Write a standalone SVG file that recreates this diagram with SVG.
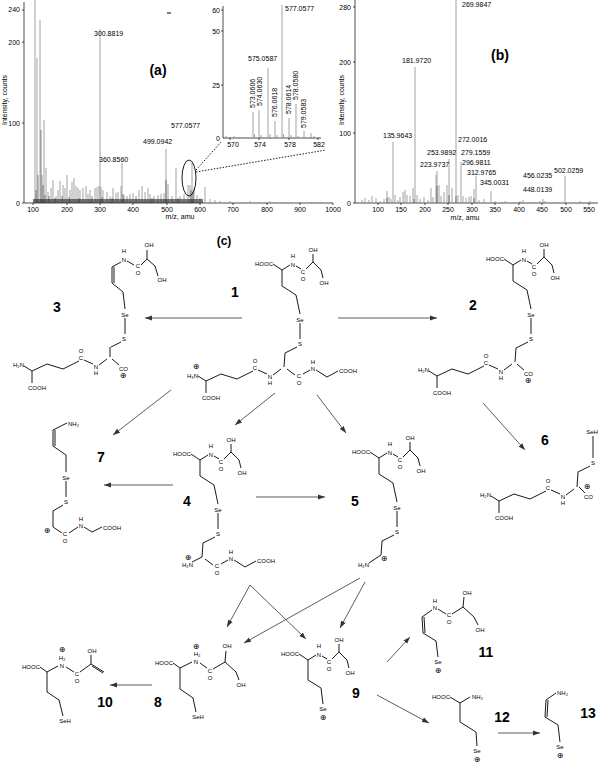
<svg xmlns="http://www.w3.org/2000/svg" width="600" height="764" viewBox="0 0 600 764">
<style>
text{font-family:"Liberation Sans",Arial,sans-serif;fill:#000}
.ax{stroke:#000;stroke-width:0.7;fill:none}
.pk{stroke:#8a8a8a;stroke-width:0.8;fill:none}
.pkd{stroke:#333;stroke-width:0.6;fill:none}
.t{font-size:7px}
.tk{font-size:7px;text-anchor:middle}
.b{stroke:#000;stroke-width:0.9;fill:none}
.a{font-size:6px;text-anchor:middle}
.ae{font-size:6px;text-anchor:end}
.as{font-size:6px;text-anchor:start}
.c{font-size:8px;text-anchor:middle;font-family:"DejaVu Sans",sans-serif}
.n{font-size:14px;font-weight:bold;text-anchor:middle}
.ar{stroke:#333;stroke-width:0.8;fill:none;marker-end:url(#ah)}
</style>
<defs>
<marker id="ah" markerWidth="8" markerHeight="6" refX="7" refY="3" orient="auto" markerUnits="userSpaceOnUse"><path d="M0,0.5 L7,3 L0,5.5 z" fill="#333"/></marker>
<g id="top">
<text class="ae" x="-9" y="-4">HOOC</text>
<path class="b" d="M-9,-6 L0,0 L8,-5 M14,-4 L19,-1 M24,-1 L31,-8 L39,0 L41,8 M31,-8 L31,-16"/>
<text class="a" x="11" y="-12">H</text><text class="a" x="11" y="-3">N</text>
<text class="a" x="21" y="4">C</text><text class="a" x="21" y="11">O</text>
<text class="a" x="31" y="-18">OH</text><text class="a" x="42" y="15">OH</text>
</g>
<g id="core">
<use href="#top"/>
<path class="b" d="M0,0 L0,16 L14,25 L18,44 M18,53 L18,69 M15,77 L3,83 L2,97"/>
<text class="a" x="18" y="52">Se</text><text class="a" x="18" y="76">S</text>
</g>
<g id="glu">
<path class="b" d="M-3,2 L-11,8 M-17,7 L-26,3 M-31,4 L-47,12 L-63,7 L-78,14 L-86,9 M-78,14 L-78,26"/>
<text class="a" x="-14" y="12">N</text><text class="a" x="-14" y="18">H</text>
<text class="a" x="-29" y="3">C</text><text class="a" x="-29" y="-4">O</text>
<text class="a" x="-73" y="33">COOH</text>
</g>
<g id="gly">
<path class="b" d="M3,2 L11,8 M19,7 L26,3 M32,3 L43,10 L54,4"/>
<text class="a" x="15" y="11">C</text><text class="a" x="15" y="18">O</text>
<text class="a" x="29" y="4">N</text><text class="a" x="29" y="-3">H</text>
<text class="as" x="55" y="6">COOH</text>
</g>
<g id="co">
<path class="b" d="M2,2 L9,8"/>
<text class="as" x="9" y="14">CO</text><text class="c" x="13" y="21">⊕</text>
</g>
</defs>

<!-- Panel a -->
<g id="spectrum-a">
<path class="ax" d="M24,2 V203 H333 M24,10 h-2 M24,42 h-2 M24,123 h-2 M24,203 h-2 M33,203 v2 M67,203 v2 M100,203 v2 M133,203 v2 M167,203 v2 M200,203 v2 M233,203 v2 M267,203 v2 M300,203 v2 M333,203 v2"/>
<text class="t" x="20" y="12" text-anchor="end">240</text><text class="t" x="20" y="45" text-anchor="end">200</text><text class="t" x="20" y="126" text-anchor="end">100</text><text class="t" x="20" y="206" text-anchor="end">0</text>
<text class="tk" x="33" y="212">100</text><text class="tk" x="67" y="212">200</text><text class="tk" x="100" y="212">300</text><text class="tk" x="133" y="212">400</text><text class="tk" x="167" y="212">500</text><text class="tk" x="200" y="212">600</text><text class="tk" x="233" y="212">700</text><text class="tk" x="267" y="212">800</text><text class="tk" x="300" y="212">900</text><text class="tk" x="333" y="212">1000</text>
<text class="tk" x="180" y="219">m/z, amu</text>
<text class="tk" transform="translate(7,100) rotate(-90)" font-size="6">Intensity, counts</text>
<path class="pk" d="M35,203V0M37,203V58M40,203V20M42,203V175M44,203V120M46,203V168M48,203V192M51,203V188M53,203V180M56,203V196M58,203V190M60,203V181M63,203V185M65,203V188M67,203V175M70,203V190M72,203V182M74,203V178M76,203V186M78,203V188M80,203V190M83,203V188M86,203V186M88,203V194M90,203V190M95,203V188M97,203V187M99,203V186M100,203V29M101,203V187M103,203V190M107,203V192M110,203V196M113,203V188M116,203V193M118,203V192M121,203V186M122,203V163M124,203V195M127,203V196M130,203V194M133,203V193M139,203V190M142,203V186M145,203V192M148,203V188M150,203V194M154,203V196M158,203V195M161,203V194M164,203V193M166,203V149M168,203V184M172,203V196M176,203V168M180,203V196M184,203V194M188,203V185M190,203V185M192,203V163M194,203V188M197,203V195M200,203V198M205,203V187M210,203V199M215,203V200M220,203V201M230,203V201M250,203V201M270,203V201M300,203V202M320,203V202"/>
<path class="pkd" d="M36,203V190M38,203V175M41,203V130M43,203V185M45,203V195M49,203V196M55,203V198M62,203V196M69,203V197M79,203V198M92,203V196M102,203V197M112,203V198M123,203V194M136,203V196M152,203V198M166,203V180M178,203V198M191,203V190M193,203V192"/>
<rect x="33" y="199" width="170" height="4" fill="#222" opacity="0.6"/>
<text class="t" x="94" y="36">300.8819</text><text class="t" x="99" y="162">360.8560</text><text class="t" x="143" y="144">499.0942</text><text class="t" x="171" y="128">577.0577</text>
<text x="158" y="75" font-size="14" font-weight="bold" text-anchor="middle">(a)</text>
<path d="M167,13 h4" stroke="#000" stroke-width="1"/>
<ellipse cx="189" cy="178" rx="7" ry="18" fill="none" stroke="#000" stroke-width="0.9"/>
<path d="M196,170 L222,141 M196,172 L326,150" stroke="#000" stroke-width="0.9" stroke-dasharray="1.5,1.5" fill="none"/>
<!-- inset -->
<path class="ax" d="M223,6 V138 H321 M223,10 h-2 M223,31 h-2 M223,85 h-2 M230,138 v2 M259,138 v2 M289,138 v2 M318,138 v2"/>
<text class="t" x="220" y="13" text-anchor="end">60</text><text class="t" x="220" y="34" text-anchor="end">50</text><text class="t" x="220" y="88" text-anchor="end">25</text><text class="t" x="220" y="141" text-anchor="end">0</text>
<text class="tk" x="233" y="147">570</text><text class="tk" x="260" y="147">574</text><text class="tk" x="290" y="147">578</text><text class="tk" x="319" y="147">582</text>
<path class="pk" d="M226,138V136M230,138V137M234,138V136M238,138V137M246,138V137M253,138V112M254.5,138V134M259,138V110M261,138V135M268,138V68M270,138V134M275,138V121M277,138V135M282,138V5M283.5,138V134M289,138V118M291,138V135M296,138V104M298,138V136M304,138V131M311,138V133M314,138V136"/>
<text class="t" x="248" y="61">575.0587</text><text class="t" x="285" y="11">577.0577</text>
<text class="t" transform="translate(255,108) rotate(-90)">573.0606</text>
<text class="t" transform="translate(262,106) rotate(-90)">574.0630</text>
<text class="t" transform="translate(277,117) rotate(-90)">576.0618</text>
<text class="t" transform="translate(291,114) rotate(-90)">578.0614</text>
<text class="t" transform="translate(298,100) rotate(-90)">578.0580</text>
<text class="t" transform="translate(306,128) rotate(-90)">579.0583</text>
</g>

<!-- Panel b -->
<g id="spectrum-b">
<path class="ax" d="M355,0 V203 H598 M355,7 h-2 M355,62 h-2 M355,133 h-2 M355,203 h-2 M378,203 v2 M401,203 v2 M425,203 v2 M448,203 v2 M472,203 v2 M495,203 v2 M519,203 v2 M542,203 v2 M566,203 v2 M589,203 v2"/>
<text class="t" x="351" y="10" text-anchor="end">280</text><text class="t" x="351" y="65" text-anchor="end">200</text><text class="t" x="351" y="136" text-anchor="end">100</text><text class="t" x="351" y="206" text-anchor="end">0</text>
<text class="tk" x="378" y="212">100</text><text class="tk" x="401" y="212">150</text><text class="tk" x="425" y="212">200</text><text class="tk" x="448" y="212">250</text><text class="tk" x="472" y="212">300</text><text class="tk" x="495" y="212">350</text><text class="tk" x="519" y="212">400</text><text class="tk" x="542" y="212">450</text><text class="tk" x="566" y="212">500</text><text class="tk" x="589" y="212">550</text>
<text class="tk" x="465" y="220">m/z, amu</text>
<text class="tk" transform="translate(344,100) rotate(-90)" font-size="6">Intensity, counts</text>
<path class="pk" d="M362,203V200M365,203V198M369,203V200M372,203V196M376,203V198M380,203V201M384,203V199M387,203V191M389,203V197M391,203V199M393,203V142M395,203V195M398,203V200M400,203V197M403,203V192M405,203V190M407,203V195M410,203V196M413,203V188M415,203V67M417,203V195M420,203V199M424,203V197M428,203V200M431,203V188M433,203V197M436,203V175M437,203V171M439,203V185M441,203V196M444,203V192M447,203V185M449,203V159M452,203V188M456,203V0M458,203V195M461,203V162M463,203V196M466,203V198M469,203V197M471,203V196M474,203V189M476,203V176M479,203V200M484,203V199M491,203V191M495,203V201M505,203V201M520,203V201M523,203V200M540,203V201M543,203V199M545,203V201M565,203V176M580,203V201M590,203V201"/>
<path class="pkd" d="M387,203V198M414,203V199M437,203V186M449,203V195M456,203V196M474,203V198"/>
<text class="t" x="462" y="7">269.9847</text><text class="t" x="402" y="63">181.9720</text><text class="t" x="383" y="138">135.9643</text><text class="t" x="458" y="142">272.0016</text>
<text class="t" x="427" y="155">253.9892</text><text class="t" x="461" y="155">279.1559</text><text class="t" x="420" y="167">223.9737</text><text class="t" x="462" y="165">296.9811</text>
<text class="t" x="467" y="175">312.9765</text><text class="t" x="480" y="185">345.0031</text><text class="t" x="523" y="192">448.0139</text><text class="t" x="523" y="178">456.0235</text><text class="t" x="554" y="173">502.0259</text>
<text x="500" y="60" font-size="14" font-weight="bold" text-anchor="middle">(b)</text>
</g>

<text x="224" y="245" font-size="12" font-weight="bold" text-anchor="middle">(c)</text>

<!-- connectors -->
<g id="connectors">
<path class="ar" d="M242,318 L145,318"/>
<path class="ar" d="M338,318 L437,318"/>
<path class="ar" d="M171,390 L113,435"/>
<path class="ar" d="M275,393 L235,425"/>
<path class="ar" d="M317,395 L346,433"/>
<path class="ar" d="M483,403 L525,450"/>
<path class="ar" d="M173,485 L104,485"/>
<path class="ar" d="M256,497 L325,497"/>
<path class="ar" d="M250,585 L227,627"/>
<path class="ar" d="M250,585 L306,639"/>
<path class="ar" d="M360,578 L244,643"/>
<path class="ar" d="M365,582 L340,628"/>
<path class="ar" d="M152,685 L110,685"/>
<path class="ar" d="M387,662 L410,637"/>
<path class="ar" d="M377,695 L429,723"/>
<path class="ar" d="M498,733 L540,733"/>
</g>

<g id="n1">
<use href="#core" transform="translate(282,270)"/>
<g transform="translate(284,367)">
<use href="#glu"/><use href="#gly"/>
<text class="ae" x="-86" y="11">H₃N</text><text class="c" x="-88" y="2">⊕</text>
</g>
<text class="n" x="235" y="297">1</text>
</g>

<g id="n2">
<use href="#core" transform="translate(513,265)"/>
<g transform="translate(515,362)">
<use href="#glu"/><use href="#co"/>
<text class="ae" x="-86" y="10">H₂N</text>
</g>
<text class="n" x="473" y="310">2</text>
</g>

<g id="n3">
<path class="b" d="M121,262 L112,267 L112,283 L123,292 L125,309 M125,318 L125,334 M121,342 L111,347 M114,267 L114,283 M127,261 L134,265 M141,265 L147,259 L155,266 L158,276 M147,259 L147,250"/>
<path class="b" d="M110,347 L110,357"/>
<text class="a" x="124" y="253">H</text><text class="a" x="124" y="262">N</text>
<text class="a" x="138" y="268">C</text><text class="a" x="138" y="275">O</text>
<text class="a" x="149" y="247">OH</text><text class="a" x="162" y="282">OH</text>
<text class="a" x="125" y="317">Se</text><text class="a" x="124" y="341">S</text>
<g transform="translate(110,357)">
<use href="#glu"/><use href="#co"/>
<text class="ae" x="-86" y="10">H₂N</text>
</g>
<text class="n" x="57" y="312">3</text>
</g>

<g id="n4">
<use href="#core" transform="translate(200,460)"/>
<g transform="translate(202,557)">
<path class="b" d="M-10,5 L0,0"/>
<use href="#gly"/>
<text class="ae" x="-9" y="10">H₂N</text><text class="c" x="-14" y="3">⊕</text>
</g>
<text class="n" x="187" y="506">4</text>
</g>

<g id="n5">
<use href="#core" transform="translate(379,458)"/>
<g transform="translate(381,555)">
<path class="b" d="M-12,8 L0,0"/>
<text class="ae" x="-12" y="12">H₂N</text><text class="c" x="3" y="6">⊕</text>
</g>
<text class="n" x="355" y="506">5</text>
</g>

<g id="n6">
<text class="a" x="592" y="434">SeH</text>
<path class="b" d="M593,436 L593,458 M590,466 L578,472 L577,487"/>
<text class="a" x="593" y="465">S</text>
<g transform="translate(577,487)">
<use href="#glu"/>
<path class="b" d="M2,0 L8,6"/>
<text class="as" x="7" y="12">CO</text><text class="c" x="10" y="2">⊕</text>
<text class="ae" x="-86" y="10">H₂N</text>
</g>
<text class="n" x="545" y="445">6</text>
</g>

<g id="n7">
<text class="as" x="68" y="426">NH₂</text>
<path class="b" d="M67,423 L53,430 L53,446 L66,455 L66,472 M66,481 L66,497 M63,505 L53,511 L53,527 L62,533 M55,430 L55,446 M69,533 L78,527 M84,527 L92,532 L102,527"/>
<text class="a" x="66" y="480">Se</text><text class="a" x="66" y="504">S</text>
<text class="c" x="47" y="533">⊕</text>
<text class="a" x="65" y="536">C</text><text class="a" x="65" y="543">O</text>
<text class="a" x="81" y="528">N</text><text class="a" x="81" y="521">H</text>
<text class="as" x="103" y="530">COOH</text>
<text class="n" x="101" y="462">7</text>
</g>

<g id="n8">
<text class="ae" x="173" y="665">HOOC</text>
<path class="b" d="M173,663 L180,668 L192,662 M200,663 L207,668 M213,669 L225,662 L236,672 L239,680 M225,662 L226,651 M180,668 L180,689 L193,698 L196,712"/>
<text class="c" x="196" y="649">⊕</text><text class="a" x="197" y="656">H₂</text><text class="a" x="196" y="664">N</text>
<text class="a" x="210" y="673">C</text><text class="a" x="210" y="680">O</text>
<text class="a" x="227" y="648">OH</text><text class="a" x="241" y="687">OH</text>
<text class="a" x="198" y="719">SeH</text>
<text class="n" x="158" y="707">8</text>
</g>

<g id="n9">
<use href="#top" transform="translate(308,660)"/>
<path class="b" d="M308,660 L308,680 L321,688 L323,704"/>
<text class="a" x="323" y="711">Se</text><text class="c" x="323" y="720">⊕</text>
<text class="n" x="356" y="698">9</text>
</g>

<g id="n10">
<text class="ae" x="40" y="669">HOOC</text>
<path class="b" d="M40,667 L47,672 L58,666 M66,667 L74,672 M80,672 L91,664 L91,655 M91,664 L104,672 M92,666 L103,673 M47,672 L47,692 L59,700 L63,716"/>
<text class="c" x="62" y="652">⊕</text><text class="a" x="62" y="660">H₂</text><text class="a" x="62" y="668">N</text>
<text class="a" x="77" y="676">C</text><text class="a" x="77" y="683">O</text>
<text class="a" x="92" y="653">OH</text>
<text class="a" x="65" y="723">SeH</text>
<text class="n" x="105" y="707">10</text>
</g>

<g id="n11">
<path class="b" d="M432,610 L422,617 L423,633 L436,641 L438,657 M424,617 L425,633 M438,609 L446,614 M452,614 L463,607 L474,617 L478,625 M463,607 L464,597"/>
<text class="a" x="435" y="603">H</text><text class="a" x="435" y="610">N</text>
<text class="a" x="449" y="617">C</text><text class="a" x="449" y="624">O</text>
<text class="a" x="467" y="595">OH</text><text class="a" x="480" y="632">OH</text>
<text class="a" x="438" y="664">Se</text><text class="c" x="438" y="673">⊕</text>
<text class="n" x="486" y="657">11</text>
</g>

<g id="n12">
<text class="ae" x="450" y="699">HOOC</text>
<path class="b" d="M450,697 L460,703 L470,697 M460,703 L460,722 L476,732 L477,746"/>
<text class="as" x="472" y="699">NH₂</text>
<text class="a" x="477" y="753">Se</text><text class="c" x="477" y="762">⊕</text>
<text class="n" x="502" y="722">12</text>
</g>

<g id="n13">
<text class="as" x="557" y="695">NH₂</text>
<path class="b" d="M556,693 L546,700 L545,717 L558,725 L560,742 M548,700 L547,717"/>
<text class="a" x="560" y="749">Se</text><text class="c" x="560" y="758">⊕</text>
<text class="n" x="588" y="718">13</text>
</g>
</svg>
